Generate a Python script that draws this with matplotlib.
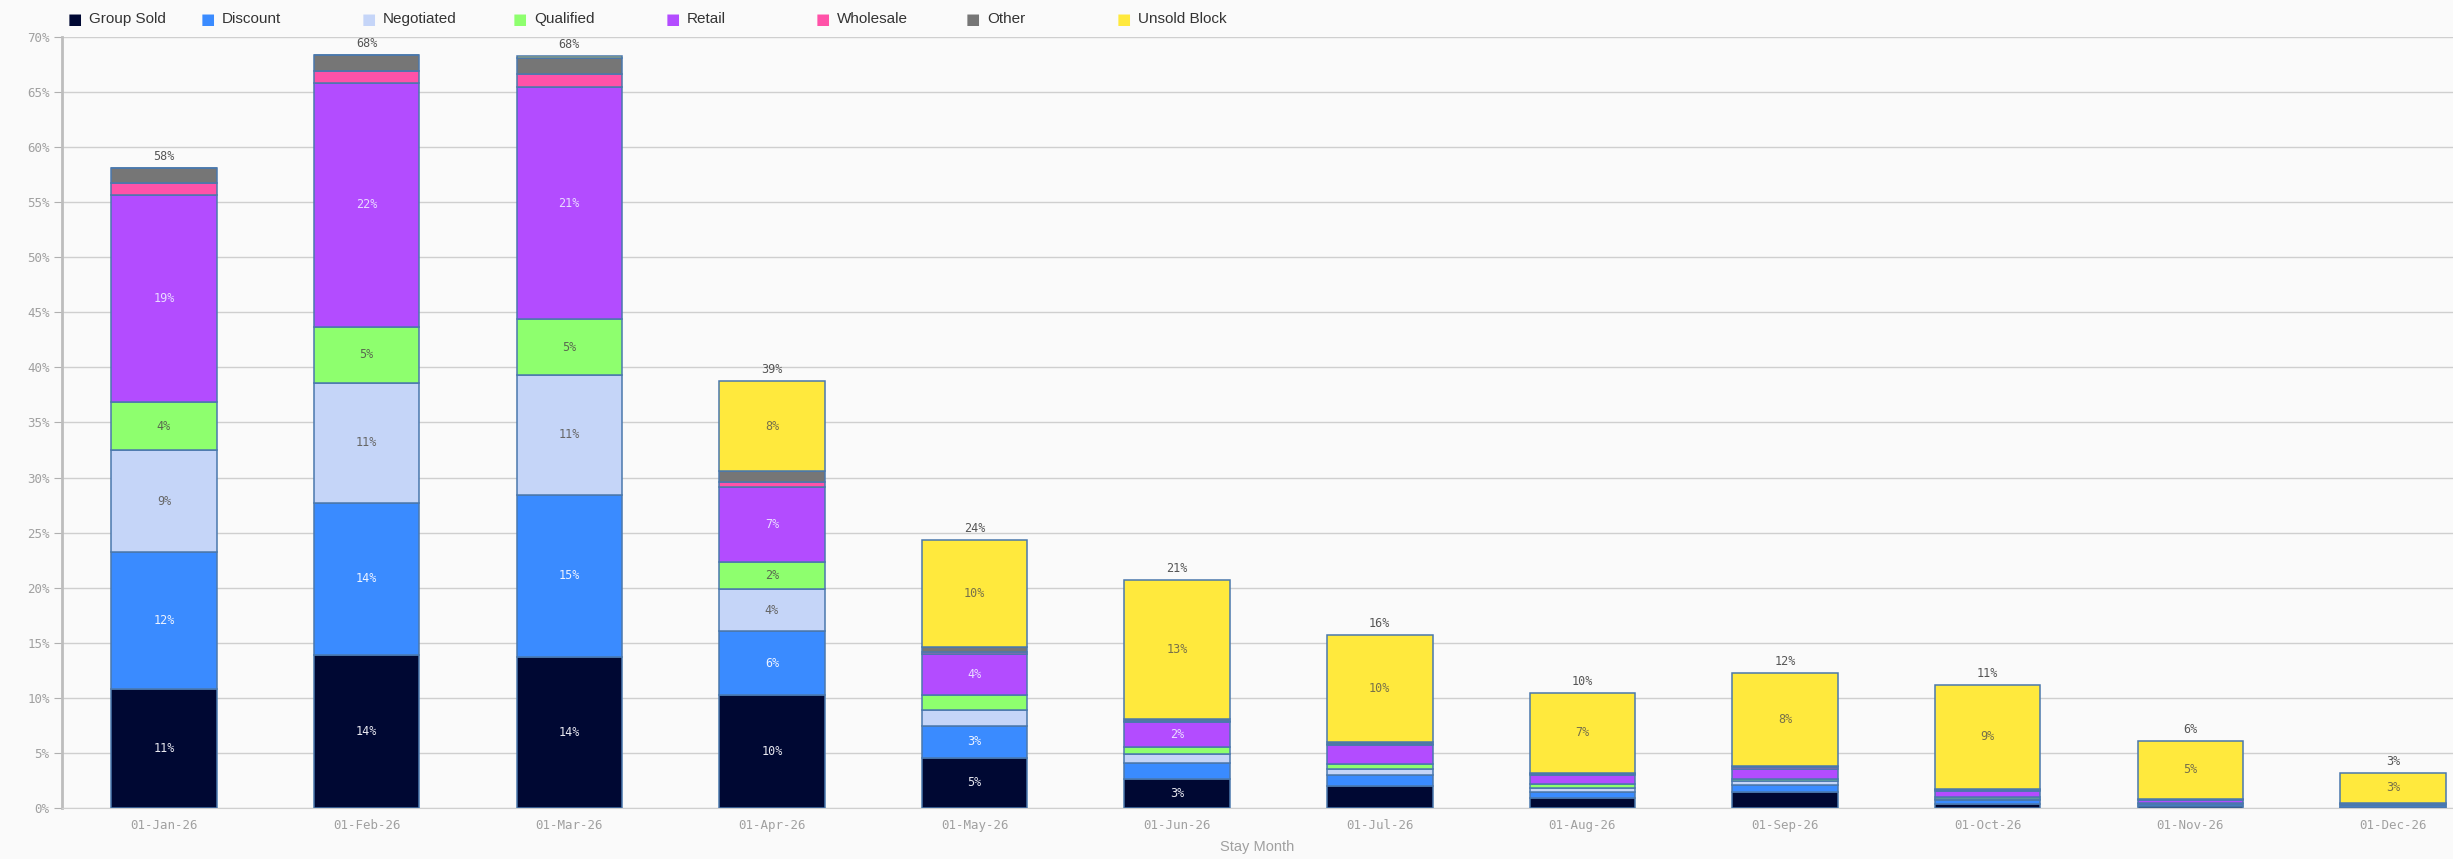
import matplotlib
matplotlib.use('Agg')
import matplotlib.pyplot as plt
import numpy as np

months = ['01-Jan-26', '01-Feb-26', '01-Mar-26', '01-Apr-26', '01-May-26', '01-Jun-26',
          '01-Jul-26', '01-Aug-26', '01-Sep-26', '01-Oct-26', '01-Nov-26', '01-Dec-26']

group_sold = [10.8, 13.9, 13.75, 10.27, 4.55, 2.6, 2.04, 0.94, 1.45, 0.39, 0.15, 0.10]
discount = [12.44, 13.8, 14.7, 5.77, 2.9, 1.51, 0.97, 0.54, 0.67, 0.30, 0.20, 0.15]
negotiated = [9.25, 10.9, 10.9, 3.84, 1.4, 0.78, 0.49, 0.37, 0.30, 0.15, 0.08, 0.05]
qualified = [4.33, 5.1, 5.0, 2.42, 1.4, 0.67, 0.51, 0.30, 0.25, 0.15, 0.05, 0.02]
retail = [18.81, 22.1, 21.1, 6.85, 3.72, 2.23, 1.70, 0.85, 0.91, 0.58, 0.27, 0.10]
wholesale = [1.09, 1.15, 1.15, 0.40, 0.20, 0.10, 0.10, 0.05, 0.10, 0.05, 0.03, 0.02]
other = [1.42, 1.4, 1.5, 1.0, 0.40, 0.20, 0.18, 0.13, 0.14, 0.10, 0.07, 0.04]
unsold_block = [0.0, 0.0, 0.2, 8.2, 9.8, 12.62, 9.72, 7.27, 8.42, 9.45, 5.24, 2.73]

series_names = ['Group Sold', 'Discount', 'Negotiated', 'Qualified', 'Retail',
                'Wholesale', 'Other', 'Unsold Block']
series_colors = ['#000833', '#3a8bff', '#c5d5f8', '#8eff6e', '#b34cff',
                 '#ff52a8', '#767676', '#ffe93d']
label_colors = ['#e8e8f0', '#eef3ff', '#666666', '#5a6a50', '#eadcff',
                '#ffffff', '#ffffff', '#77704a']

series = [group_sold, discount, negotiated, qualified, retail, wholesale, other, unsold_block]

fig = plt.figure(figsize=(24.53, 8.59), dpi=100)
fig.patch.set_facecolor('#fafafa')
ax = fig.add_axes([0.0253, 0.0594, 0.9747, 0.8976])
ax.set_facecolor('#fafafa')

x = np.arange(len(months))
bottom = np.zeros(len(months))
mono = 'DejaVu Sans Mono'
for name, vals, col, lc in zip(series_names, series, series_colors, label_colors):
    vals = np.array(vals)
    ax.bar(x, vals, bottom=bottom, width=0.52, color=col, edgecolor='#4a78ad',
           linewidth=1.1, zorder=3, label=name)
    for i, v in enumerate(vals):
        if v >= 2.1:
            ax.text(x[i], bottom[i] + v / 2, '%d%%' % round(v), ha='center', va='center',
                    fontsize=8.5, color=lc, family=mono, zorder=4)
    bottom += vals

for i, t in enumerate(bottom):
    ax.text(x[i], t + 0.45, '%d%%' % round(t), ha='center', va='bottom',
            fontsize=8.5, color='#555555', family=mono, zorder=4)

ax.set_xlim(-0.503, 11.296)
ax.set_ylim(0, 70)
ax.set_yticks(np.arange(0, 71, 5))
ax.set_yticklabels(['%d%%' % v for v in range(0, 71, 5)], family=mono, fontsize=9, color='#a0a0a0')
ax.set_xticks(x)
ax.set_xticklabels(months, family=mono, fontsize=9, color='#a0a0a0')
ax.tick_params(axis='y', length=6, color='#b0b0b0', pad=3)
ax.tick_params(axis='x', length=0, pad=8)
ax.grid(axis='y', color='#cfcfcf', linewidth=1.0, zorder=0)
for s in ['top', 'right']:
    ax.spines[s].set_visible(False)
ax.spines['left'].set_color('#bdbdbd')
ax.spines['left'].set_linewidth(2)
ax.spines['bottom'].set_color('#cfcfcf')
ax.set_xlabel('Stay Month', fontsize=10.5, color='#a0a0a0', family='Liberation Sans', labelpad=6)

# legend across the top
leg_x = [75, 208, 369, 520, 673, 823, 973, 1124]
for px, name, col in zip(leg_x, series_names, series_colors):
    fig.text(px / 2453, 1 - 19 / 859, '\u25A0', color=col, fontsize=11, ha='center', va='center',
             family='DejaVu Sans')
    fig.text((px + 14) / 2453, 1 - 19 / 859, name, color='#333333', fontsize=11, ha='left',
             va='center', family='Liberation Sans')

fig.savefig('out.png', dpi=100, facecolor=fig.get_facecolor())
